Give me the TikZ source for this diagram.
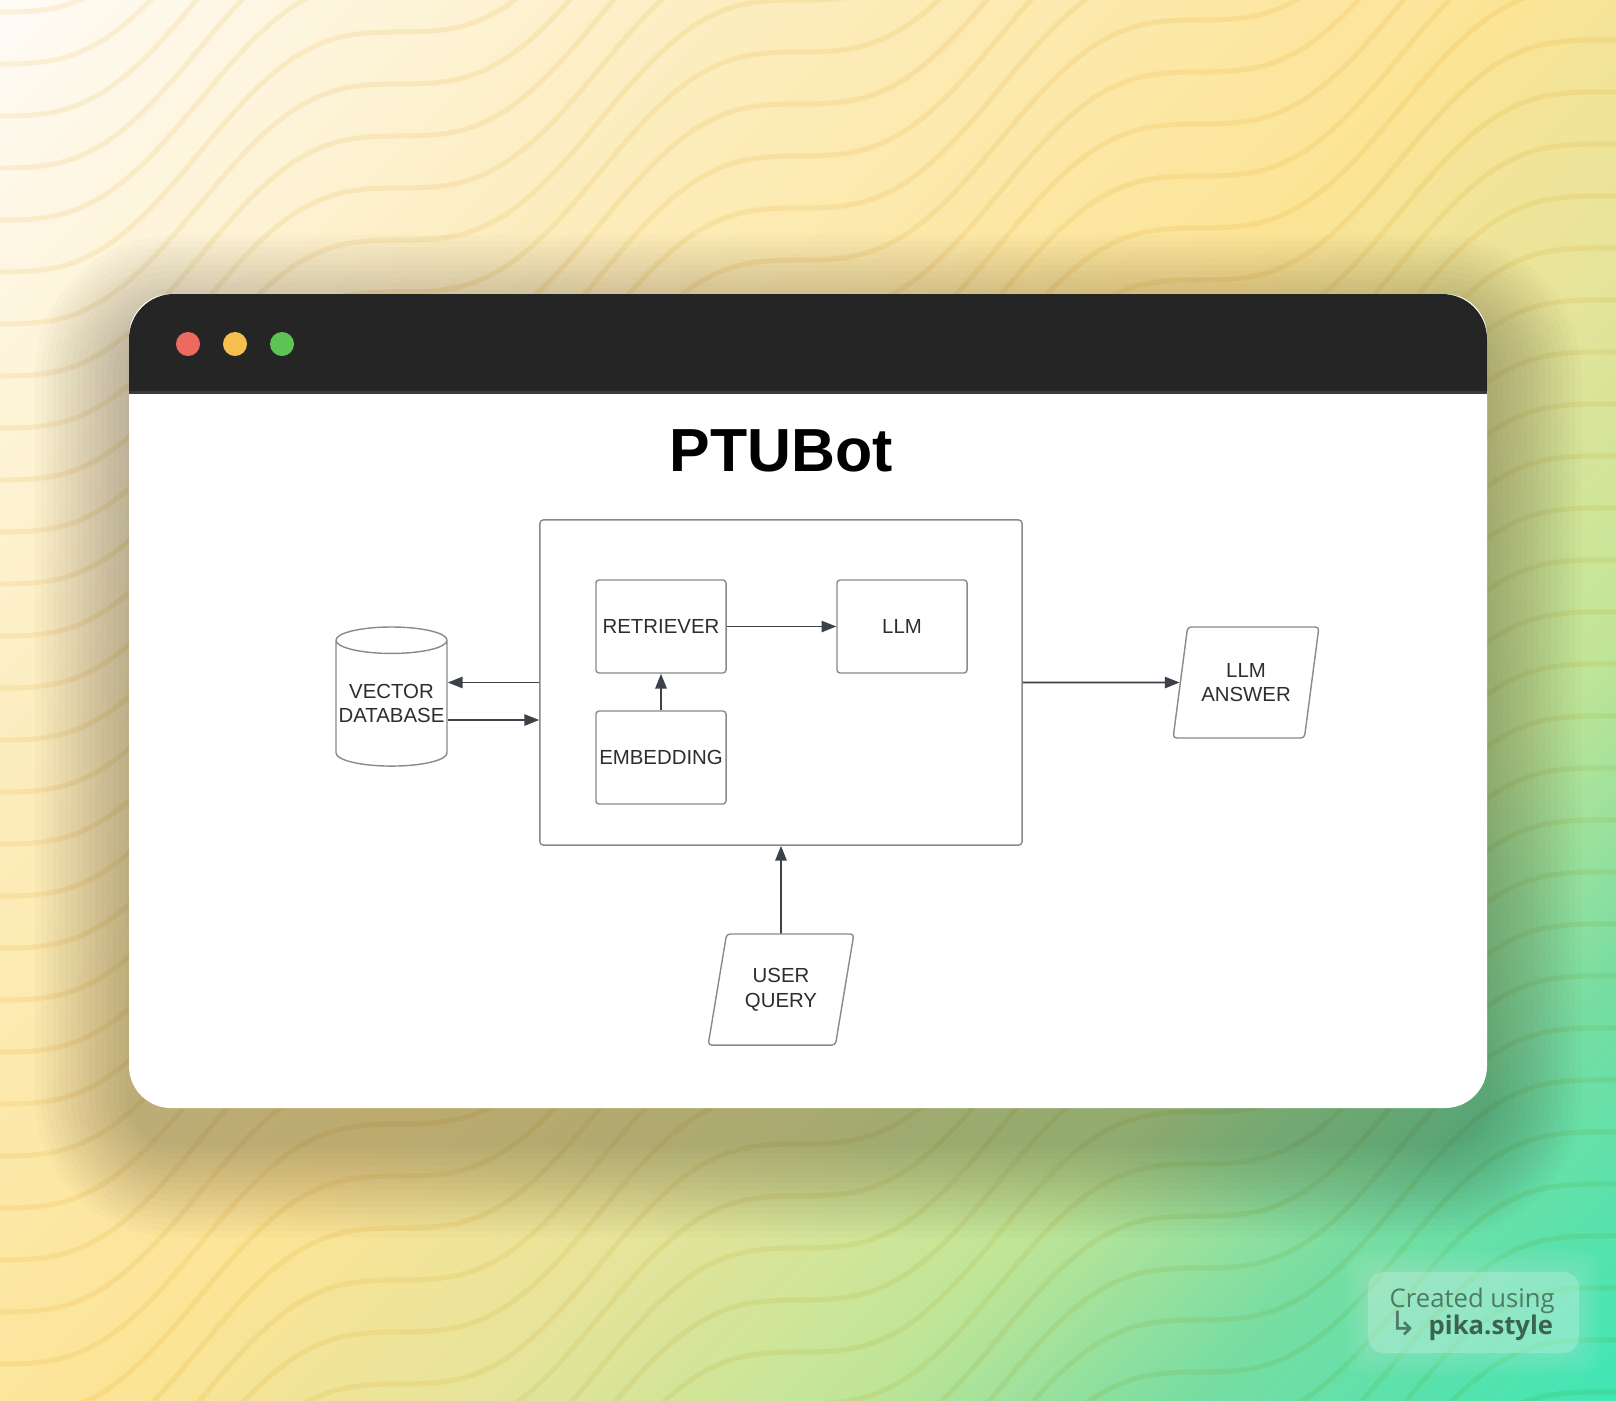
\documentclass[tikz,border=0pt]{standalone}
\usepackage{fontspec}
\setmainfont{Liberation Sans}
\newfontfamily\pikafont{Open Sans}
\newfontfamily\arrowfont{DejaVu Sans}
\usetikzlibrary{arrows.meta,shapes.geometric}

% colours
\definecolor{bgA}{HTML}{FFFBF6}
\definecolor{bgB}{HTML}{FCEDBE}
\definecolor{bgC}{HTML}{FCE496}
\definecolor{bgD}{HTML}{E6E49A}
\definecolor{bgE}{HTML}{C0E597}
\definecolor{bgF}{HTML}{78DDA2}
\definecolor{bgG}{HTML}{40E6B5}
\definecolor{wavecol}{RGB}{251,244,226}
\definecolor{barcol}{HTML}{252525}
\definecolor{barline}{HTML}{3B3B3B}
\definecolor{dotred}{HTML}{EC6A5E}
\definecolor{dotyellow}{HTML}{F4BF4F}
\definecolor{dotgreen}{HTML}{5EC454}
\definecolor{boxline}{HTML}{8A8A8A}
\definecolor{arrowcol}{HTML}{3D4149}
\definecolor{textcol}{HTML}{2E2E2E}
\definecolor{pikatext}{HTML}{4C7B66}
\definecolor{pikabold}{HTML}{3A6450}

\pgfdeclareverticalshading{pikabg}{100bp}{color(0bp)=(bgG); color(14.6bp)=(bgG); color(24.5bp)=(bgF); color(32.3bp)=(bgE); color(41.5bp)=(bgD); color(50bp)=(bgC); color(67.7bp)=(bgB); color(85.4bp)=(bgA); color(100bp)=(bgA)}

\newcommand{\boxfont}{\fontsize{5.8pt}{7pt}\selectfont}
\newcommand{\titlefont}{\fontsize{17.3pt}{20pt}\selectfont\bfseries}
\newcommand{\pikasize}{\fontsize{7.3pt}{8pt}\selectfont}

\tikzset{
  block/.style={draw=boxline, line width=0.4pt, rounded corners=0.9pt,
    minimum width=1.3cm, minimum height=0.93cm, inner sep=0pt,
    align=center, font=\boxfont, text=textcol},
  iobox/.style={trapezium, trapezium left angle=74, trapezium right angle=106,
    trapezium stretches=true, draw=boxline, line width=0.4pt, rounded corners=1pt,
    minimum width=1.46cm, minimum height=1.11cm, inner sep=0pt,
    align=center, font=\boxfont, text=textcol},
  store/.style={cylinder, shape border rotate=90, aspect=0.25, draw=boxline,
    line width=0.4pt, minimum width=1.11cm, minimum height=1.39cm, inner sep=0pt,
    align=center, font=\boxfont, text=textcol},
  link/.style={draw=arrowcol, line width=0.55pt, -{Triangle[length=4.2pt,width=3.2pt]}},
}

\begin{document}
\begin{tikzpicture}[x=0.01cm, y=-0.01cm]
  \useasboundingbox (0,0) rectangle (1616,1400);

  %% background
  \shade[shading=pikabg, shading angle=45] (0,0) rectangle (1616,1400);
  \begin{scope}[blend mode=multiply]
    \clip (0,0) rectangle (1616,1400);
    \foreach \c in {-40,12,...,2430}
      \draw[wavecol, line width=0.05cm] plot[smooth, domain=-20:1640, samples=70]
        (\x, {\c - 0.6*\x + 38*sin(0.9*\x)});
  \end{scope}

  %% shadow
  \foreach \e in {4,10,...,94} {
    \pgfmathsetmacro{\rr}{0.45+0.01*\e}
    \fill[black, fill opacity=0.016, rounded corners=\rr cm]
      (129-\e,329-\e) rectangle (1487+\e,1143+\e);
  }

  %% window
  \fill[white, rounded corners=0.42cm] (129,294) rectangle (1487,1108);
  \fill[barcol] (129,391) [rounded corners=0.45cm] -- (129,294) -- (1487,294)
    [sharp corners] -- (1487,391) -- cycle;
  \fill[barline] (129,391) rectangle (1487,394);
  \fill[dotred]    (188,344) circle[radius=0.12cm];
  \fill[dotyellow] (235,344) circle[radius=0.12cm];
  \fill[dotgreen]  (282,344) circle[radius=0.12cm];

  %% diagram
  \node[font=\titlefont] (title) at (781,451) {PTUBot};
  \node[draw=boxline, line width=0.4pt, rounded corners=1pt,
    minimum width=4.82cm, minimum height=3.25cm] (frame) at (781,682.5) {};
  \node[block] (ret) at (661,626.5) {RETRIEVER};
  \node[block] (llm) at (902,626.5) {LLM};
  \node[block] (emb) at (661,757.5) {EMBEDDING};
  \node[store] (db) at (391.5,703.5) {VECTOR\\DATABASE};
  \node[iobox] (ans) at (1246,682.5) {LLM\\ANSWER};
  \node[iobox] (query) at (781,989.5) {USER\\QUERY};
  \coordinate (dbout) at ([yshift=-0.165cm]db.east);

  \draw[link] (frame.west) -- (frame.west -| db.east);
  \draw[link] (dbout) -- (dbout -| frame.west);
  \draw[link] (emb.north) -- (ret.south);
  \draw[link] (ret.east) -- (llm.west);
  \draw[link] (frame.east) -- (ans.west);
  \draw[link] (query.north) -- (frame.south);

  %% watermark
  \foreach \e in {2,6,...,22}
    \fill[white, fill opacity=0.03, rounded corners=0.2cm]
      (1368-\e,1272-\e) rectangle (1579+\e,1353+\e);
  \fill[white, fill opacity=0.2, rounded corners=0.16cm] (1368,1272) rectangle (1579,1353);
  \node[anchor=base west, inner sep=0pt, font=\pikafont\pikasize, text=pikatext]
    (made) at (1389,1307) {Created using};
  \node[inner sep=0pt, font=\arrowfont\fontsize{9.5pt}{10pt}\selectfont, text=pikatext]
    (hook) at (1403,1324) {↳};
  \node[anchor=base west, inner sep=0pt, font=\pikafont\bfseries\pikasize, text=pikabold]
    (pika) at (1428,1334) {pika.style};
\end{tikzpicture}
\end{document}
